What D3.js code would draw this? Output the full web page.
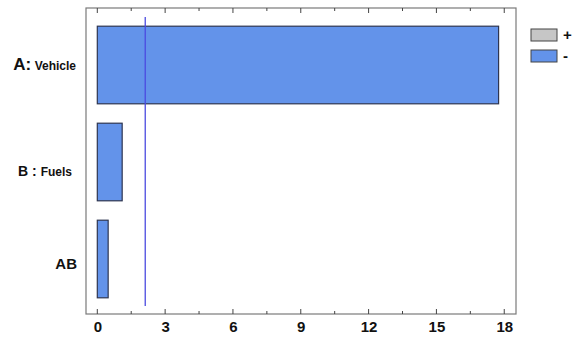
<!DOCTYPE html>
<html>
<head>
<meta charset="utf-8">
<script src="https://cdn.jsdelivr.net/npm/d3@7"></script>
<style>
  body { margin: 0; background: #fff; }
  text { font-family: "Liberation Sans", Arial, sans-serif; font-weight: bold; }
</style>
</head>
<body>
<script>
var factors = ["A", "B", "AB"];
var factorNames = ["Vehicle", "Fuels", ""];
var effects = [17.75, 1.1, 0.48];
var signs = ["-", "-", "-"];
var critical = 2.12;
var xTicks = [0, 3, 6, 9, 12, 15, 18];
var legendKeys = ["+", "-"];
var legendColors = ["#c6c6c6", "#6393ea"];

var width = 574, height = 344;
var plotLeft = 86, plotRight = 516, plotTop = 8, plotBottom = 314;

var svg = d3.select("body").append("svg")
    .attr("width", width)
    .attr("height", height);

var x = d3.scaleLinear().domain([-0.5, 18.52]).range([plotLeft, plotRight]);
var y = d3.scaleBand().domain(factors).range([16.5, 307.5])
    .paddingInner(0.2).paddingOuter(0.1);
var fill = d3.scaleOrdinal().domain(legendKeys).range(legendColors);

// frame
svg.append("rect")
    .attr("x", plotLeft).attr("y", plotTop)
    .attr("width", plotRight - plotLeft).attr("height", plotBottom - plotTop)
    .attr("fill", "none").attr("stroke", "#7a7a7a").attr("stroke-width", 1.2);

// ticks every 1.5, bottom and top
var minor = d3.range(0, 18.01, 1.5);
svg.append("g").selectAll("line")
    .data(minor).enter().append("line")
    .attr("x1", function(d) { return x(d); }).attr("x2", function(d) { return x(d); })
    .attr("y1", plotBottom).attr("y2", function(d) { return plotBottom - (d % 3 === 0 ? 5 : 3); })
    .attr("stroke", "#444");
svg.append("g").selectAll("line")
    .data(minor).enter().append("line")
    .attr("x1", function(d) { return x(d); }).attr("x2", function(d) { return x(d); })
    .attr("y1", plotTop).attr("y2", function(d) { return plotTop + (d % 3 === 0 ? 5 : 3); })
    .attr("stroke", "#444");

// tick labels
var xAxis = svg.append("g")
    .attr("transform", "translate(0," + plotBottom + ")")
    .call(d3.axisBottom(x).tickValues(xTicks).tickSize(0).tickPadding(7));
xAxis.select(".domain").remove();
xAxis.selectAll("text")
    .attr("font-size", 15)
    .attr("font-weight", "bold")
    .attr("fill", "#111")
    .style("font-family", "'Liberation Sans', Arial, sans-serif");

// bars
svg.append("g").selectAll("rect")
    .data(factors).enter().append("rect")
    .attr("x", x(0))
    .attr("y", function(d) { return y(d); })
    .attr("width", function(d, i) { return x(effects[i]) - x(0); })
    .attr("height", y.bandwidth())
    .attr("fill", function(d, i) { return fill(signs[i]); })
    .attr("stroke", "#2e3550")
    .attr("stroke-width", 1.2);

// critical value line
svg.append("line")
    .attr("x1", x(critical)).attr("x2", x(critical))
    .attr("y1", 17).attr("y2", 306)
    .attr("stroke", "#4a4ae0").attr("stroke-width", 1.3);

// factor labels
var labelShift = [-1, 8, 4];
var labelRight = [76, 72, 77];
var labelBig = [17, 14, 15];
var labels = svg.append("g").selectAll("text")
    .data(factors).enter().append("text")
    .attr("x", function(d, i) { return labelRight[i]; })
    .attr("y", function(d, i) { return y(d) + y.bandwidth() / 2 + labelShift[i]; })
    .attr("dy", "0.35em")
    .attr("text-anchor", "end")
    .attr("fill", "#111");
labels.append("tspan")
    .attr("font-size", function(d, i) { return labelBig[i]; })
    .text(function(d, i) { return factorNames[i] ? d + (d === "B" ? " : " : ":") : d; });
labels.append("tspan")
    .attr("font-size", 12)
    .text(function(d, i) { return factorNames[i] ? (d === "B" ? "" : " ") + factorNames[i] : ""; });

// legend
var legend = svg.append("g").selectAll("g")
    .data(legendKeys).enter().append("g")
    .attr("transform", function(d, i) { return "translate(531," + (29 + i * 21) + ")"; });
legend.append("rect")
    .attr("width", 26).attr("height", 12)
    .attr("fill", function(d) { return fill(d); })
    .attr("stroke", "#444").attr("stroke-width", 1);
legend.append("text")
    .attr("x", 32).attr("y", 6).attr("dy", "0.35em")
    .attr("font-size", 15).attr("fill", "#111")
    .text(function(d) { return d; });
</script>
</body>
</html>
